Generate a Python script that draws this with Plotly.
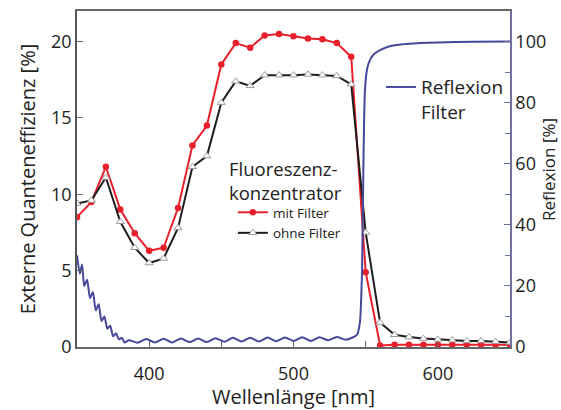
import plotly.graph_objects as go

# Wavelength grid of the measured quantum efficiency points [nm]
wl = [350, 360, 370, 380, 390, 400, 410, 420, 430, 440, 450, 460, 470, 480,
      490, 500, 510, 520, 530, 540, 550, 560, 570, 580, 590, 600, 610, 620,
      630, 640, 650]

# External quantum efficiency with filter [%]
eqe_mit = [8.5, 9.5, 11.8, 9.0, 7.45, 6.3, 6.5, 9.1, 13.2, 14.5, 18.5, 19.9,
           19.6, 20.4, 20.5, 20.35, 20.2, 20.15, 19.9, 19.0, 4.9, 0.1, 0.15,
           0.15, 0.15, 0.15, 0.15, 0.15, 0.15, 0.15, 0.15]

# External quantum efficiency without filter [%]
eqe_ohne = [9.4, 9.6, 11.1, 8.2, 6.5, 5.5, 5.8, 7.8, 11.8, 12.5, 16.0, 17.4,
            17.1, 17.8, 17.8, 17.8, 17.85, 17.8, 17.75, 17.2, 7.5, 1.6, 0.8,
            0.65, 0.55, 0.5, 0.45, 0.4, 0.4, 0.35, 0.3]

# Reflection spectrum of the filter [%]
wl_refl = [350, 352, 353.5, 355, 357, 359, 361, 363, 365, 367, 369, 371, 373,
           375, 377, 379, 381, 383, 386, 392, 398, 404, 410, 416, 422, 428,
           434, 440, 446, 452, 458, 464, 470, 476, 482, 488, 494, 500, 506,
           512, 518, 524, 530, 536, 541, 544, 546, 547.5, 548.5, 549.5, 551,
           553, 556, 560, 565, 570, 580, 600, 625, 650]
refl = [30, 24, 27, 20, 22, 16, 18, 12, 14, 8.5, 10, 6, 7, 3.5, 4.5, 2.5, 3,
        1.5, 2.2, 1.4, 2.6, 1.5, 2.7, 1.5, 2.8, 1.6, 2.8, 1.6, 2.9, 1.7, 3.0,
        1.8, 3.0, 1.8, 3.1, 1.9, 3.1, 2.0, 3.2, 2.0, 3.2, 2.2, 3.3, 2.4, 3.1,
        4.0, 8, 25, 62, 84, 91, 94, 96, 97.2, 98.2, 98.8, 99.3, 99.7, 99.9,
        100]

font_family = "Open Sans, Noto Sans, sans-serif"
text_color = "#222"
red = "#e8202c"
dark = "#1e1e1e"
blue = "#48489a"
frame = "#666"
frame_right = "#7070a0"

fig = go.Figure()

fig.add_trace(go.Scatter(
    x=wl, y=eqe_mit, name="mit Filter", mode="lines+markers",
    line=dict(color=red, width=2),
    marker=dict(symbol="circle", size=6.5, color=red),
    legend="legend",
))
fig.add_trace(go.Scatter(
    x=wl, y=eqe_ohne, name="ohne Filter", mode="lines+markers",
    line=dict(color=dark, width=2),
    marker=dict(symbol="triangle-up", size=7, color="white",
                line=dict(color="#9a9a9a", width=1)),
    legend="legend",
))
fig.add_trace(go.Scatter(
    x=wl_refl, y=refl, name="Reflexion<br>Filter", mode="lines",
    line=dict(color=blue, width=2, shape="spline", smoothing=0.6),
    yaxis="y2", legend="legend2",
))

# Heading above the concentrator legend entries
fig.add_annotation(text="Fluoreszenz-<br>konzentrator", xref="paper",
                   yref="paper", x=0.3464, y=0.497, xanchor="left",
                   yanchor="middle", align="left", showarrow=False,
                   font=dict(size=18.5, color=text_color))

# Right-hand axis title, running along the page edge
fig.add_annotation(text="Reflexion [%]", xref="paper", yref="paper",
                   x=1.0901, y=0.527, xanchor="center", yanchor="middle",
                   textangle=-90, showarrow=False,
                   font=dict(size=17, color=text_color))

fig.update_layout(
    width=561, height=410,
    margin=dict(l=77, r=51, t=11, b=63, autoexpand=False),
    paper_bgcolor="white", plot_bgcolor="white",
    font=dict(family=font_family, size=17, color=text_color),
    xaxis=dict(
        range=[350, 650], tickvals=[400, 500, 600], ticks="inside",
        ticklen=6, tickcolor=frame, showline=True, linecolor=frame,
        linewidth=1.5, mirror=True, showgrid=False, zeroline=False,
        automargin=False, tickfont=dict(size=18),
        minor=dict(dtick=50, tick0=0, ticks="inside", ticklen=6,
                   tickcolor=frame),
        title=dict(text="Wellenlänge [nm]", standoff=12),
        ticklabelstandoff=10,
    ),
    yaxis=dict(
        range=[0, 22], tickvals=[0, 5, 10, 15, 20], ticks="inside",
        ticklen=6, tickcolor=frame, showline=True, linecolor="#555",
        linewidth=1.5, showgrid=False, zeroline=False, automargin=False,
        tickfont=dict(size=18),
        title=dict(text="Externe Quanteneffizienz [%]", standoff=10),
    ),
    yaxis2=dict(
        range=[0, 110], tickvals=[0, 20, 40, 60, 80, 100], ticks="inside",
        ticklen=6, tickcolor=frame_right, showline=True,
        linecolor=frame_right, linewidth=1.5, showgrid=False,
        zeroline=False, overlaying="y", side="right", automargin=False,
        tickfont=dict(size=18),
        minor=dict(dtick=10, tick0=0, ticks="inside", ticklen=5,
                   tickcolor=frame_right),
    ),
    legend=dict(
        x=0.360, y=0.4464, xanchor="left", yanchor="top",
        bgcolor="rgba(0,0,0,0)", borderwidth=0,
        font=dict(size=13.5, color=text_color),
        itemwidth=30, tracegroupgap=0,
    ),
    legend2=dict(
        x=0.702, y=0.830, xanchor="left", yanchor="top",
        bgcolor="rgba(0,0,0,0)", borderwidth=0,
        font=dict(size=19, color=text_color), valign="top",
    ),
)

fig.write_html("out.html")
